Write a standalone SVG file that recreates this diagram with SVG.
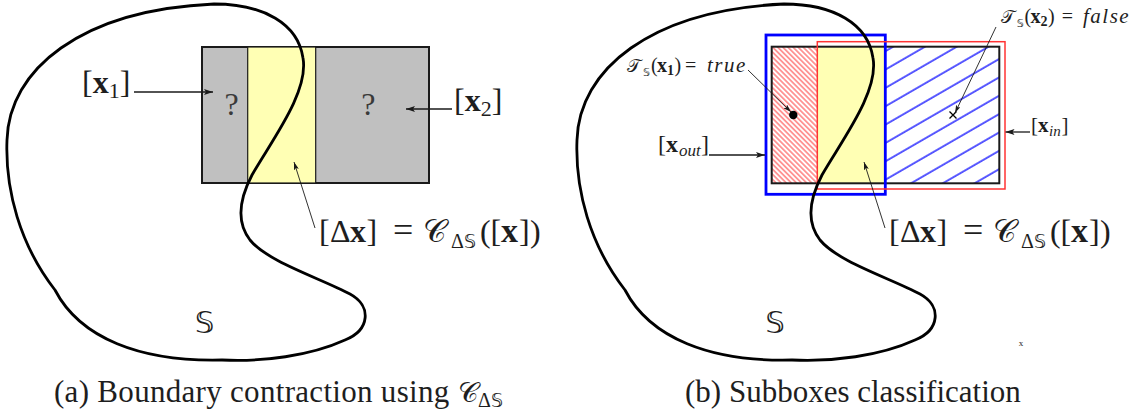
<svg xmlns="http://www.w3.org/2000/svg" xmlns:xlink="http://www.w3.org/1999/xlink" width="1133" height="414" viewBox="0 0 1133 414">
<style>
.t{font-family:"Liberation Serif","DejaVu Serif",serif;fill:#1e1e1e}
.m{font-family:"DejaVu Sans","DejaVu Serif",serif}
.b{font-weight:bold}
.i{font-style:italic}
.q{fill:#3a3a3a}
.arrow{fill:none;stroke:#1a1a1a;stroke-width:1.3;marker-end:url(#ah)}
.thin{fill:none;stroke:#1a1a1a;stroke-width:0.9;marker-end:url(#ahs)}
.curve{fill:none;stroke:#000;stroke-width:2.8}
</style>
<defs>
<marker id="ah" viewBox="0 0 9 6" refX="9" refY="3" markerWidth="9" markerHeight="6" markerUnits="userSpaceOnUse" orient="auto"><path d="M0,0 L9,3 L0,6 L2,3 z" fill="#1a1a1a"/></marker>
<marker id="ahs" viewBox="0 0 8 5" refX="8" refY="2.5" markerWidth="8" markerHeight="5" markerUnits="userSpaceOnUse" orient="auto"><path d="M0,0 L8,2.5 L0,5 L1.8,2.5 z" fill="#1a1a1a"/></marker>
<pattern id="redHatch" patternUnits="userSpaceOnUse" width="10" height="3.6" patternTransform="rotate(45)"><line x1="0" y1="1.8" x2="10" y2="1.8" stroke="#ff1a1a" stroke-width="0.9"/></pattern>
<pattern id="blueHatch" patternUnits="userSpaceOnUse" width="20" height="15.9" patternTransform="translate(886,60) rotate(-30)"><line x1="0" y1="8" x2="20" y2="8" stroke="#0000ff" stroke-width="1.3"/></pattern>
<path id="curveShape" d="M214,4 C264,4 298,24 303,58 C309,92 272,140 252,175 C240,198 236,222 250,240 C268,262 320,278 350,294 C372,306 370,330 345,340 C310,356 262,362 222,360 C140,362 80,338 55,290 C20,245 5,190 7,140 C9,70 80,10 214,4 Z"/>
</defs>
<rect width="1133" height="414" fill="#fff"/>

<!-- Panel (a) -->
<g id="box-a">
<rect x="202" y="47" width="227" height="136" fill="#c0c0c0" stroke="#1a1a1a" stroke-width="2"/>
<rect x="247.7" y="47" width="68" height="136" fill="#ffffb4" stroke="#1a1a1a" stroke-width="1.2"/>
<text class="t q" x="231.7" y="115" font-size="32" text-anchor="middle">?</text>
<text class="t q" x="368.3" y="115" font-size="32" text-anchor="middle">?</text>
</g>
<g id="set-a"><use xlink:href="#curveShape" class="curve"/></g>
<g id="label-S-a"><text class="m" x="204.5" y="333" font-size="31" text-anchor="middle" fill="#1e1e1e">𝕊</text></g>
<g id="label-x1"><text class="t" y="93" font-size="32"><tspan x="82">[</tspan><tspan x="92.7" class="b">x</tspan><tspan x="108.7" y="98" font-size="22">1</tspan><tspan x="119.7" y="93">]</tspan></text></g>
<g id="label-x2"><text class="t" y="111" font-size="32"><tspan x="454">[</tspan><tspan x="464.7" class="b">x</tspan><tspan x="480.7" y="116" font-size="22">2</tspan><tspan x="491.7" y="111">]</tspan></text></g>
<g id="label-dx-a"><text class="t" y="242" font-size="32"><tspan x="319">[</tspan><tspan x="330">Δ</tspan><tspan x="350" class="b">x</tspan><tspan x="366.5">]</tspan><tspan x="393" font-size="36">=</tspan><tspan x="423" class="m">𝒞</tspan><tspan x="451" y="248" font-size="20">Δ</tspan><tspan class="m" font-size="19">𝕊</tspan><tspan x="480" y="242">(</tspan><tspan x="490.5">[</tspan><tspan x="501" class="b" font-size="34">x</tspan><tspan x="519">]</tspan><tspan x="530">)</tspan></text></g>

<!-- Panel (b) -->
<g id="box-b">
<rect x="771.7" y="46.7" width="227.6" height="136.6" fill="#fff"/>
<rect x="771.7" y="46.7" width="46" height="136.6" fill="url(#redHatch)"/>
<rect x="885.7" y="46.7" width="113.6" height="136.6" fill="url(#blueHatch)"/>
<rect x="817.7" y="46.7" width="68" height="136.6" fill="#ffffb4"/>
<rect x="771.7" y="46.7" width="227.6" height="136.6" fill="none" stroke="#1a1a1a" stroke-width="2"/>
</g>
<g id="box-out"><rect x="766" y="35" width="119.3" height="159.3" fill="none" stroke="#0000ff" stroke-width="2.8"/></g>
<g id="box-in"><rect x="817.3" y="41.7" width="187.7" height="147.3" fill="none" stroke="#ff3333" stroke-width="1.5"/></g>
<g id="set-b"><use xlink:href="#curveShape" class="curve" transform="translate(570,0)"/></g>
<g id="point-x1"><circle cx="793.3" cy="115" r="4.2" fill="#000"/></g>
<g id="point-x2"><path d="M949.5,111.5 L956.5,118.5 M949.5,118.5 L956.5,111.5" stroke="#000" stroke-width="1.3"/></g>
<g id="label-S-b"><text class="m" x="775" y="333" font-size="31" text-anchor="middle" fill="#1e1e1e">𝕊</text></g>
<g id="label-true"><text class="t" y="72" font-size="20"><tspan x="627" class="m" font-size="18">𝒯</tspan><tspan x="643" y="76" class="m" font-size="11">𝕊</tspan><tspan x="651" y="72">(</tspan><tspan x="657" class="b">x</tspan><tspan x="667" y="75" class="b" font-size="14">1</tspan><tspan x="674.5" y="72">)</tspan><tspan x="685">=</tspan><tspan x="707" class="i" font-size="21" letter-spacing="1.5">true</tspan></text></g>
<g id="label-false"><text class="t" y="23" font-size="20"><tspan x="1000.5" class="m" font-size="18">𝒯</tspan><tspan x="1016.7" y="27" class="m" font-size="11">𝕊</tspan><tspan x="1024.5" y="23">(</tspan><tspan x="1030.5" class="b">x</tspan><tspan x="1040.5" y="26" class="b" font-size="14">2</tspan><tspan x="1048" y="23">)</tspan><tspan x="1061.7">=</tspan><tspan x="1083" class="i" font-size="21" letter-spacing="1.5">false</tspan></text></g>
<g id="label-xout"><text class="t" y="152" font-size="24"><tspan x="658">[</tspan><tspan x="666" class="b">x</tspan><tspan x="679" y="156" class="i" font-size="17">out</tspan><tspan x="701" y="152">]</tspan></text></g>
<g id="label-xin"><text class="t" y="132" font-size="21"><tspan x="1031">[</tspan><tspan x="1038" class="b">x</tspan><tspan x="1049" y="136" class="i" font-size="15">in</tspan><tspan x="1061.5" y="132">]</tspan></text></g>
<g id="label-dx-b"><text class="t" y="242" font-size="32"><tspan x="889">[</tspan><tspan x="900">Δ</tspan><tspan x="920" class="b">x</tspan><tspan x="936.5">]</tspan><tspan x="963" font-size="36">=</tspan><tspan x="993" class="m">𝒞</tspan><tspan x="1021" y="248" font-size="20">Δ</tspan><tspan class="m" font-size="19">𝕊</tspan><tspan x="1050" y="242">(</tspan><tspan x="1060.5">[</tspan><tspan x="1071" class="b" font-size="34">x</tspan><tspan x="1089">]</tspan><tspan x="1100">)</tspan></text></g>
<g id="mark"><text class="t" x="1021" y="346" font-size="9" text-anchor="middle" fill="#222">x</text></g>

<!-- Connectors -->
<g id="connectors">
<line class="arrow" x1="134" y1="92" x2="213" y2="92"/>
<line class="arrow" x1="452" y1="109" x2="406" y2="109"/>
<line class="thin" x1="315" y1="228" x2="294" y2="162"/>
<line class="thin" x1="885" y1="228" x2="864" y2="162"/>
<line class="arrow" x1="709" y1="155" x2="765" y2="155"/>
<line class="arrow" x1="1030" y1="132" x2="1005.5" y2="132"/>
<line class="thin" x1="748" y1="70" x2="791" y2="112"/>
<line class="thin" x1="996" y1="27" x2="955" y2="113"/>
</g>

<!-- Captions -->
<g id="caption-a"><text class="t" y="402" font-size="31" letter-spacing="0.3"><tspan x="54">(a) Boundary contraction using </tspan><tspan class="m" font-size="28">𝒞</tspan><tspan y="407" font-size="20">Δ</tspan><tspan class="m" font-size="19">𝕊</tspan></text></g>
<g id="caption-b"><text class="t" x="685" y="402" font-size="31">(b) Subboxes classification</text></g>
</svg>
